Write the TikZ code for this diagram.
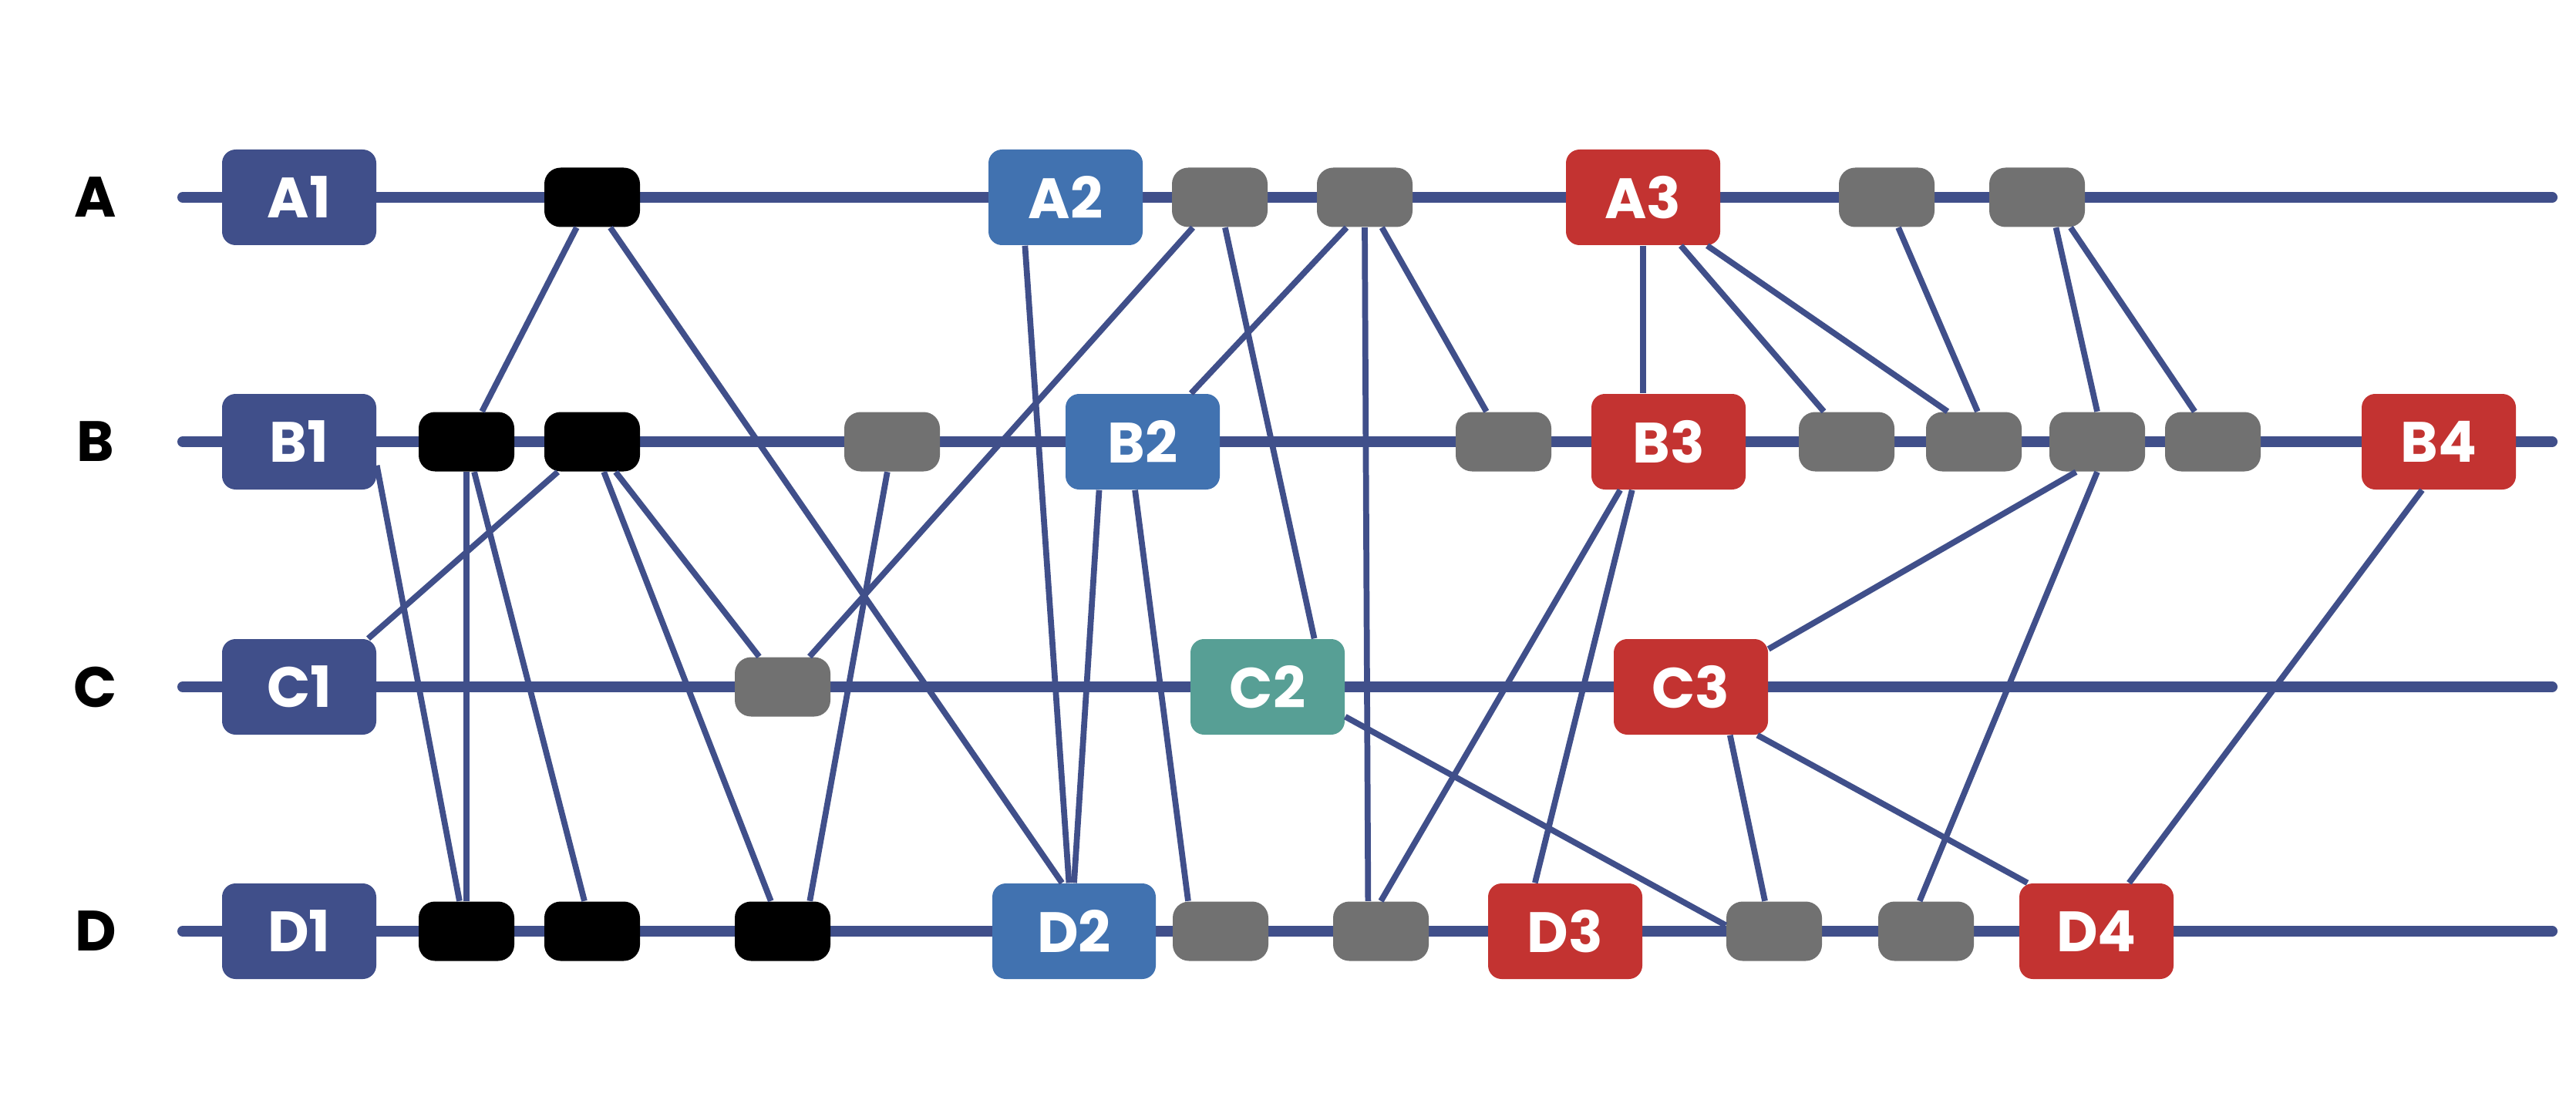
\documentclass[tikz,border=0pt]{standalone}
\usepackage{fontspec}
\setmainfont{Poppins}
\usepackage{xcolor}
\usepackage{tikz}
\usetikzlibrary{shapes,positioning,calc,backgrounds}

\definecolor{rowblue}{RGB}{64,79,138}
\definecolor{midblue}{RGB}{65,114,176}
\definecolor{tealgreen}{RGB}{87,159,149}
\definecolor{boxred}{RGB}{195,51,49}
\definecolor{boxgray}{RGB}{113,113,113}

\begin{document}
\begin{tikzpicture}[bigbox/.style={
                rectangle,
                rounded corners=5pt,
                minimum width=2cm,
                minimum height=1.24cm,
                inner sep=0pt,
                text=white,
                font=\bfseries\fontsize{21}{21}\selectfont,
        },
        smallbox/.style={
                rectangle,
                rounded corners=6pt,
                minimum width=1.24cm,
                minimum height=0.77cm,
                inner sep=0pt,
        },
        blackbox/.style={smallbox, fill=black},
        graybox/.style={smallbox, fill=boxgray},
        rowlabel/.style={font=\bfseries\fontsize{21}{21}\selectfont, text=black},
        rowline/.style={draw=rowblue, line width=0.14cm, line cap=round},
        link/.style={draw=rowblue, line width=2.2pt}]
            \useasboundingbox (0,0) rectangle (33.41,14.48);

            % rows
            \node[rowlabel] (rowA) at (1.24,11.92) {A};
            \node[rowlabel] (rowB) at (1.24,8.75) {B};
            \node[rowlabel] (rowC) at (1.24,5.57) {C};
            \node[rowlabel] (rowD) at (1.24,2.40) {D};
            \coordinate (A-start) at (2.37,11.92);
            \coordinate (B-start) at (2.37,8.75);
            \coordinate (C-start) at (2.37,5.57);
            \coordinate (D-start) at (2.37,2.40);
            \coordinate (A-end) at (33.10,11.92);
            \coordinate (B-end) at (33.10,8.75);
            \coordinate (C-end) at (33.10,5.57);
            \coordinate (D-end) at (33.10,2.40);

            % labelled boxes
            \node[bigbox, fill=rowblue] (A1) at (3.88,11.92) {A1};
            \node[bigbox, fill=rowblue] (B1) at (3.88,8.75) {B1};
            \node[bigbox, fill=rowblue] (C1) at (3.88,5.57) {C1};
            \node[bigbox, fill=rowblue] (D1) at (3.88,2.40) {D1};
            \node[bigbox, fill=midblue] (A2) at (13.82,11.92) {A2};
            \node[bigbox, fill=midblue] (B2) at (14.82,8.75) {B2};
            \node[bigbox, fill=tealgreen] (C2) at (16.44,5.57) {C2};
            \node[bigbox, fill=midblue, minimum width=2.12cm] (D2) at (13.93,2.40) {D2};
            \node[bigbox, fill=boxred] (A3) at (21.31,11.92) {A3};
            \node[bigbox, fill=boxred] (B3) at (21.64,8.75) {B3};
            \node[bigbox, fill=boxred] (C3) at (21.93,5.57) {C3};
            \node[bigbox, fill=boxred] (D3) at (20.30,2.40) {D3};
            \node[bigbox, fill=boxred] (B4) at (31.63,8.75) {B4};
            \node[bigbox, fill=boxred] (D4) at (27.19,2.40) {D4};

            % small boxes
            \node[blackbox] (Ak1) at (7.68,11.92) {};
            \node[graybox] (Ag1) at (15.82,11.92) {};
            \node[graybox] (Ag2) at (17.70,11.92) {};
            \node[graybox] (Ag3) at (24.47,11.92) {};
            \node[graybox] (Ag4) at (26.42,11.92) {};
            \node[blackbox] (Bk1) at (6.05,8.75) {};
            \node[blackbox] (Bk2) at (7.68,8.75) {};
            \node[graybox] (Bg1) at (11.57,8.75) {};
            \node[graybox] (Bg2) at (19.50,8.75) {};
            \node[graybox] (Bg3) at (23.95,8.75) {};
            \node[graybox] (Bg4) at (25.60,8.75) {};
            \node[graybox] (Bg5) at (27.20,8.75) {};
            \node[graybox] (Bg6) at (28.70,8.75) {};
            \node[graybox] (Cg1) at (10.15,5.57) {};
            \node[blackbox] (Dk1) at (6.05,2.40) {};
            \node[blackbox] (Dk2) at (7.68,2.40) {};
            \node[blackbox] (Dk3) at (10.15,2.40) {};
            \node[graybox] (Dg1) at (15.83,2.40) {};
            \node[graybox] (Dg2) at (17.91,2.40) {};
            \node[graybox] (Dg3) at (23.01,2.40) {};
            \node[graybox] (Dg4) at (24.98,2.40) {};

            \begin{scope}[on background layer]
                \draw[rowline] (A-start) -- (A-end);
                \draw[rowline] (B-start) -- (B-end);
                \draw[rowline] (C-start) -- (C-end);
                \draw[rowline] (D-start) -- (D-end);
            \end{scope}

            % links
            \draw[link] (Ak1) -- (Bk1);
            \draw[link] (Ak1.-59) -- (D2.104);
            \draw[link] (B1.-17) -- (Dk1.103);
            \draw[link] (Bk1) -- (Dk1);
            \draw[link] (Bk1) -- (Dk2);
            \draw[link] (Bk2) -- (C1.35);
            \draw[link] (Bk2) -- (Dk3);
            \draw[link] (Bk2) -- (Cg1);
            \draw[link] (Bg1.-99) -- (Dk3.48);
            \draw[link] (Cg1) -- (Ag1);
            \draw[link] (A2.-130) -- (D2.96);
            \draw[link] (B2.-132) -- (D2.north);
            \draw[link] (B2.-99) -- (Dg1.137);
            \draw[link] (Ag1.-80) -- (C2.46);
            \draw[link] (Ag2.-121) -- (B2.45);
            \draw[link] (Ag2.south) -- (Dg2.113);
            \draw[link] (Ag2) -- (Bg2);
            \draw[link] (A3.south) -- (A3.south |- B3.north);
            \draw[link] (A3.-52) -- (Bg3.127);
            \draw[link] (A3.-37) -- (Bg4.131);
            \draw[link] (Ag3.-69) -- (Bg4.83);
            \draw[link] (Ag4.-58) -- (Bg5.north);
            \draw[link] (Ag4.-42) -- (Bg6.121);
            \draw[link] (B3.-135) -- (Dg2.north);
            \draw[link] (B3.-127) -- (D3.122);
            \draw[link] (Bg5.-125) -- (C3.26);
            \draw[link] (Bg5.south) -- (Dg4.102);
            \draw[link] (B4.-109) -- (D4.56);
            \draw[link] (C2.-21) -- (Dg3.173);
            \draw[link] (C3.-51) -- (Dg3.107);
            \draw[link] (C3.-36) -- (D4.145);
        \end{tikzpicture}
\end{document}
